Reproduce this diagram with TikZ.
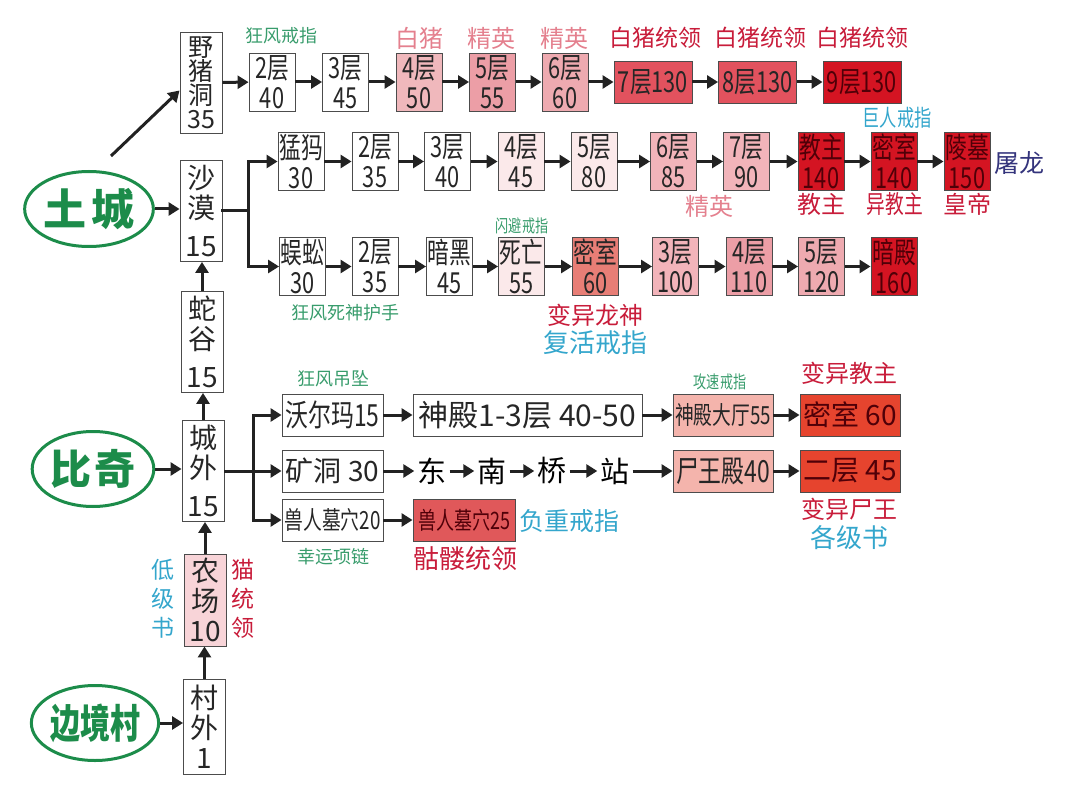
\documentclass[tikz,border=0pt]{standalone}
\usepackage{fontspec}
\setmainfont{Noto Sans CJK SC}
\newfontfamily\nar[FakeStretch=0.75]{Noto Sans CJK SC}
\usetikzlibrary{arrows.meta,shapes.geometric}
\newcommand\fsz[2]{\fontsize{#1}{#2}\selectfont}
\definecolor{grn}{RGB}{28,140,74}
\definecolor{lgrn}{RGB}{56,156,108}
\definecolor{lpink}{RGB}{228,128,142}
\definecolor{lred}{RGB}{200,28,58}
\definecolor{lblue}{RGB}{52,166,204}
\definecolor{navy}{RGB}{52,52,124}
\definecolor{ink}{RGB}{34,34,34}
\definecolor{dk}{RGB}{80,0,8}
\definecolor{fa}{RGB}{240,184,188}
\definecolor{fb}{RGB}{236,158,166}
\definecolor{fc}{RGB}{238,170,176}
\definecolor{fd}{RGB}{226,82,94}
\definecolor{fe}{RGB}{212,20,34}
\definecolor{ff}{RGB}{251,233,234}
\definecolor{fg}{RGB}{242,180,186}
\definecolor{fh}{RGB}{232,126,118}
\definecolor{fi}{RGB}{244,180,172}
\definecolor{fj}{RGB}{230,68,46}
\definecolor{fk}{RGB}{224,88,90}
\definecolor{fl}{RGB}{248,212,216}
\begin{document}
\begin{tikzpicture}[x=1pt,y=-1pt,>={Triangle[length=11pt,width=13pt]},
bx/.style={draw=black!70,line width=0.9pt,inner sep=0pt,align=center,text=black!85,font=\nar\fsz{29}{30}},
sb/.style={bx,minimum width=46pt,minimum height=58pt},
vb/.style={bx,minimum width=42pt,minimum height=101pt,font=\fsz{28}{30}},
wb/.style={bx,minimum width=78pt,minimum height=42pt},
hb/.style={bx,minimum width=101pt,minimum height=42pt},
deep/.style={fill=fe,text=dk},
el/.style={ellipse,draw=grn,line width=3pt,text=grn,inner sep=0pt,minimum width=117pt,minimum height=75pt},
lab/.style={inner sep=1pt,align=center,font=\fsz{24}{29}},
lg/.style={lab,text=lgrn,font=\fsz{18}{20}},
ls/.style={lab,text=lgrn,font=\nar\fsz{17.5}{18}},
lp/.style={lab,text=lpink},lr/.style={lab,text=lred},lb/.style={lab,text=lblue},
ar/.style={->,line width=3pt,draw=ink},ln/.style={line width=3pt,draw=ink,line cap=rect}]
\useasboundingbox (0,0) rectangle (1083,791);
\node[el,font=\bfseries\fsz{43}{43}] (tc) at (89,209) {土\hspace{5pt}城};
\node[el,font=\bfseries\fsz{41}{41}] (bq) at (93,469) {比\hspace{4pt}奇};
\node[el,font=\nar\bfseries\fsz{40}{40}] (bjc) at (95,723) {边境村};
\node[vb,font=\fsz{25}{24}] (yzd) at (201,82.5) {野\\猪\\洞\\35};
\node[vb] (sm) at (201,211) {沙\\漠\\[8pt]15};
\node[vb] (sg) at (202,342) {蛇\\谷\\[8pt]15};
\node[vb] (cw) at (203,471) {城\\外\\[8pt]15};
\node[vb,minimum height=92pt,fill=fl] (nc) at (205,600) {农\\场\\10};
\node[vb,minimum height=95pt] (cwai) at (204.5,726.5) {村\\外\\1};
\node[sb] (t2) at (272,82) {2层\\40};
\node[sb] (t3) at (345.5,82) {3层\\45};
\node[sb,fill=fa] (t4) at (419,82) {4层\\50};
\node[sb,fill=fb] (t5) at (492.5,82) {5层\\55};
\node[sb,fill=fc] (t6) at (565,82) {6层\\60};
\node[wb,fill=fd] (t7) at (653,82) {7层130};
\node[wb,fill=fd] (t8) at (757.5,82) {8层130};
\node[wb,deep] (t9) at (862,82) {9层130};
\node[sb] (mm) at (301,161.5) {猛犸\\30};
\node[sb] (r2) at (375,161.5) {2层\\35};
\node[sb] (r3) at (447.5,161.5) {3层\\40};
\node[sb,fill=ff] (r4) at (521,161.5) {4层\\45};
\node[sb,fill=ff] (r5) at (594,161.5) {5层\\80};
\node[sb,fill=fg] (r6) at (673.5,161.5) {6层\\85};
\node[sb,fill=fg] (r7) at (746.5,161.5) {7层\\90};
\node[sb,deep] (jz) at (821,161.5) {教主\\140};
\node[sb,deep] (ms) at (894,161.5) {密室\\140};
\node[sb,deep] (lm) at (967,161.5) {陵墓\\150};
\node[sb] (wg) at (302.5,266.5) {蜈蚣\\30};
\node[sb] (s2) at (375,266.5) {2层\\35};
\node[sb] (ah) at (449.5,266.5) {暗黑\\45};
\node[sb,fill=ff] (sw) at (521.5,266.5) {死亡\\55};
\node[sb,fill=fh] (mi) at (595.5,266.5) {密室\\60};
\node[sb,fill=fg] (s3) at (675.5,266.5) {3层\\100};
\node[sb,fill=fb] (s4) at (749,266.5) {4层\\110};
\node[sb,fill=fc] (s5) at (821.5,266.5) {5层\\120};
\node[sb,deep] (ad) at (894,266.5) {暗殿\\160};
\node[hb,font=\nar\fsz{30.5}{30}] (wem) at (332.5,415) {沃尔玛15};
\node[hb,font=\fsz{28}{28}] (kd) at (332.5,471) {矿洞 30};
\node[hb,font=\nar\fsz{25}{25}] (sr20) at (332.5,520) {兽人墓穴20};
\node[hb,minimum width=229pt,font=\fsz{30}{30}] (sd) at (527.5,415) {神殿1-3层 40-50};
\node[hb,minimum width=100pt,fill=fi,font=\nar\fsz{25}{25}] (sdt) at (723,415) {神殿大厅55};
\node[hb,minimum width=100pt,fill=fj,text=dk,font=\fsz{28}{28}] (ms60) at (850,415) {密室 60};
\node[hb,minimum width=100pt,fill=fi,font=\nar\fsz{30.5}{30}] (swd) at (723,471) {尸王殿40};
\node[hb,minimum width=100pt,fill=fj,text=dk,font=\fsz{28}{28}] (ec) at (850,471) {二层 45};
\node[hb,minimum width=102pt,fill=fk,text=dk,font=\nar\fsz{24}{24}] (sr25) at (464,520) {兽人墓穴25};
\node[lab,font=\fsz{29}{29},inner sep=3pt] (e1) at (432,471) {东};
\node[lab,font=\fsz{29}{29},inner sep=3pt] (e2) at (492,471) {南};
\node[lab,font=\fsz{29}{29},inner sep=3pt] (e3) at (552,471) {桥};
\node[lab,font=\fsz{29}{29},inner sep=3pt] (e4) at (615,471) {站};
\node[lg] (g1) at (281,36) {狂风戒指};
\node[lp] (p1) at (419,38) {白猪};
\node[lp] (p2) at (491,38) {精英};
\node[lp] (p3) at (564,38) {精英};
\node[lr,font=\fsz{23}{23}] (w1) at (655,38) {白猪统领};
\node[lr,font=\fsz{23}{23}] (w2) at (760,38) {白猪统领};
\node[lr,font=\fsz{23}{23}] (w3) at (862,38) {白猪统领};
\node[lb,font=\nar\fsz{23}{23}] (b1) at (897,118) {巨人戒指};
\node[lab,text=navy,font=\fsz{25}{25}] (tl) at (1019,163) {屠龙};
\node[lp] (p4) at (709,206) {精英};
\node[lr] (jz1) at (821,204) {教主};
\node[lr,font=\nar\fsz{25}{25}] (jz2) at (895,204) {异教主};
\node[lr] (hd) at (967,204) {皇帝};
\node[ls] (g2) at (522,226) {闪避戒指};
\node[lg] (g3) at (345,313) {狂风死神护手};
\node[lr] (ly) at (595,315) {变异龙神};
\node[lb,font=\fsz{26}{26}] (b2) at (595,343) {复活戒指};
\node[lg] (g4) at (333,379) {狂风吊坠};
\node[ls] (g5) at (720,382) {攻速戒指};
\node[lr] (bj) at (849,373) {变异教主};
\node[lr] (bs) at (849,509) {变异尸王};
\node[lb,font=\fsz{26}{26}] (gj) at (849,538) {各级书};
\node[lb,font=\fsz{25}{25}] (fz) at (569,521) {负重戒指};
\node[lr,font=\fsz{26}{26}] (kl) at (465,559) {骷髅统领};
\node[lg] (g6) at (333,557) {幸运项链};
\node[lb,font=\fsz{23}{29}] (dj) at (163,599) {低\\级\\书};
\node[lr,font=\fsz{23}{29}] (mt) at (243,599) {猫\\统\\领};
\coordinate (d0) at (111,156);
\coordinate (j1) at (248,211);
\coordinate (j2) at (253,471);
\draw[ar] (d0) -- ([yshift=-8pt]yzd.west);
\draw[ar] (tc.east) -- (tc.east -| sm.west);
\draw[ar] (bq.east) -- (bq.east -| cw.west);
\draw[ar] (bjc.east) -- (bjc.east -| cwai.west);
\draw[ar] (cwai.north) -- (cwai.north |- nc.south);
\draw[ar] (nc.north) -- (nc.north |- cw.south);
\draw[ar] (cw.north) -- (cw.north |- sg.south);
\draw[ar] (sg.north) -- (sg.north |- sm.south);
\draw[ln] (sm) -- (j1);
\draw[ar] (j1) |- (mm);
\draw[ar] (j1) |- (wg);
\draw[ar] (cw) -- (kd);
\draw[ar] (j2) |- (wem);
\draw[ar] (j2) |- (sr20);
\foreach \a/\b in {yzd/t2,t2/t3,t3/t4,t4/t5,t5/t6,t6/t7,t7/t8,t8/t9,mm/r2,r2/r3,r3/r4,r4/r5,r5/r6,r6/r7,r7/jz,jz/ms,ms/lm,wg/s2,s2/ah,ah/sw,sw/mi,mi/s3,s3/s4,s4/s5,s5/ad,wem/sd,sd/sdt,sdt/ms60,kd/e1,e1/e2,e2/e3,e3/e4,e4/swd,swd/ec,sr20/sr25}
\draw[ar] (\a) -- (\b);
\end{tikzpicture}
\end{document}
